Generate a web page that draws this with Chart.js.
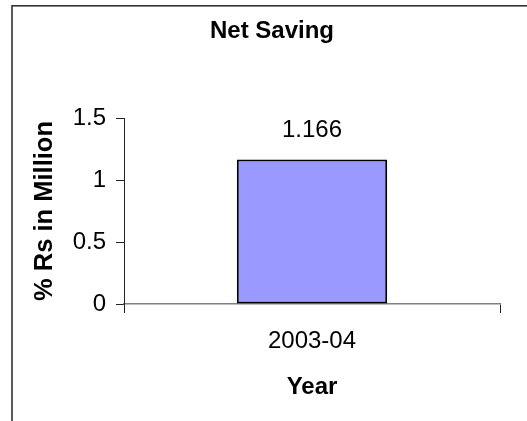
<!DOCTYPE html>
<html>
<head>
<meta charset="utf-8">
<title>Net Saving</title>
<script src="https://cdn.jsdelivr.net/npm/chart.js@4/dist/chart.umd.min.js"></script>
<style>
  html, body { margin: 0; padding: 0; background: #fff; overflow: hidden; }
  #wrap { width: 527px; height: 421px; position: relative; }
</style>
</head>
<body>
<div id="wrap"><canvas id="chart" width="527" height="421"></canvas></div>
<script>
// Data
const categories = ['2003-04'];
const netSaving = [1.166];
const valueLabels = ['1.166'];
const yTicks = [0, 0.5, 1, 1.5];

const chartTitle = 'Net Saving';
const xTitle = 'Year';
const yTitle = '% Rs in Million';

const FONT = '"Liberation Sans", Arial, Helvetica, sans-serif';

// Outer frame plus the heading, centred inside the frame
const framePlugin = {
  id: 'framePlugin',
  beforeDraw(chart) {
    const ctx = chart.ctx;
    ctx.save();
    ctx.fillStyle = '#ffffff';
    ctx.fillRect(0, 0, chart.width, chart.height);
    ctx.strokeStyle = '#333333';
    ctx.lineWidth = 1.6;
    ctx.strokeRect(12, 5.8, 522, 460);
    ctx.restore();
  },
  afterDraw(chart) {
    const ctx = chart.ctx;
    ctx.save();
    ctx.font = 'bold 24px ' + FONT;
    ctx.fillStyle = '#000';
    ctx.textAlign = 'center';
    ctx.textBaseline = 'middle';
    ctx.fillText(chartTitle, 272, 31);
    ctx.restore();
  }
};

// Value labels above each bar
const barLabelPlugin = {
  id: 'barLabelPlugin',
  afterDatasetsDraw(chart) {
    const ctx = chart.ctx;
    const meta = chart.getDatasetMeta(0);
    ctx.save();
    ctx.font = '24px ' + FONT;
    ctx.fillStyle = '#000';
    ctx.textAlign = 'center';
    ctx.textBaseline = 'middle';
    meta.data.forEach((bar, i) => {
      ctx.fillText(valueLabels[i], bar.x, bar.y - 29);
    });
    ctx.restore();
  }
};

new Chart(document.getElementById('chart'), {
  type: 'bar',
  data: {
    labels: categories,
    datasets: [{
      label: chartTitle,
      data: netSaving,
      backgroundColor: '#9999ff',
      borderColor: '#000000',
      borderWidth: 2,
      borderSkipped: false,
      categoryPercentage: 1,
      barPercentage: 0.4
    }]
  },
  options: {
    responsive: false,
    animation: false,
    devicePixelRatio: 1,
    layout: { padding: { left: 12, right: 27, top: 118, bottom: 0 } },
    plugins: {
      legend: { display: false },
      title: { display: false },
      tooltip: { enabled: false }
    },
    scales: {
      x: {
        grid: {
          display: true,
          drawOnChartArea: false,
          drawTicks: true,
          tickLength: 9,
          color: '#222222',
          offset: true
        },
        border: { display: true, color: '#808080', width: 1.5 },
        ticks: {
          color: '#000',
          font: { family: FONT, size: 24 },
          padding: 14
        },
        title: {
          display: true,
          text: xTitle,
          color: '#000',
          font: { family: FONT, size: 24, weight: 'bold' },
          padding: { top: 0, bottom: 19 }
        },
        afterFit(scale) { scale.height = 117; }
      },
      y: {
        min: 0,
        max: 1.5,
        afterBuildTicks(scale) { scale.ticks = yTicks.map(v => ({ value: v })); },
        grid: {
          display: true,
          drawOnChartArea: false,
          drawTicks: true,
          tickLength: 8,
          color: '#222222'
        },
        border: { display: true, color: '#222222', width: 1 },
        ticks: {
          color: '#000',
          font: { family: FONT, size: 24 },
          padding: 10,
          callback: (v) => String(v)
        },
        title: {
          display: true,
          text: yTitle,
          color: '#000',
          font: { family: FONT, size: 25.5, weight: 'bold' },
          padding: { top: 18, bottom: 0 }
        },
        afterFit(scale) { scale.width = 112; }
      }
    }
  },
  plugins: [framePlugin, barLabelPlugin]
});
</script>
</body>
</html>
